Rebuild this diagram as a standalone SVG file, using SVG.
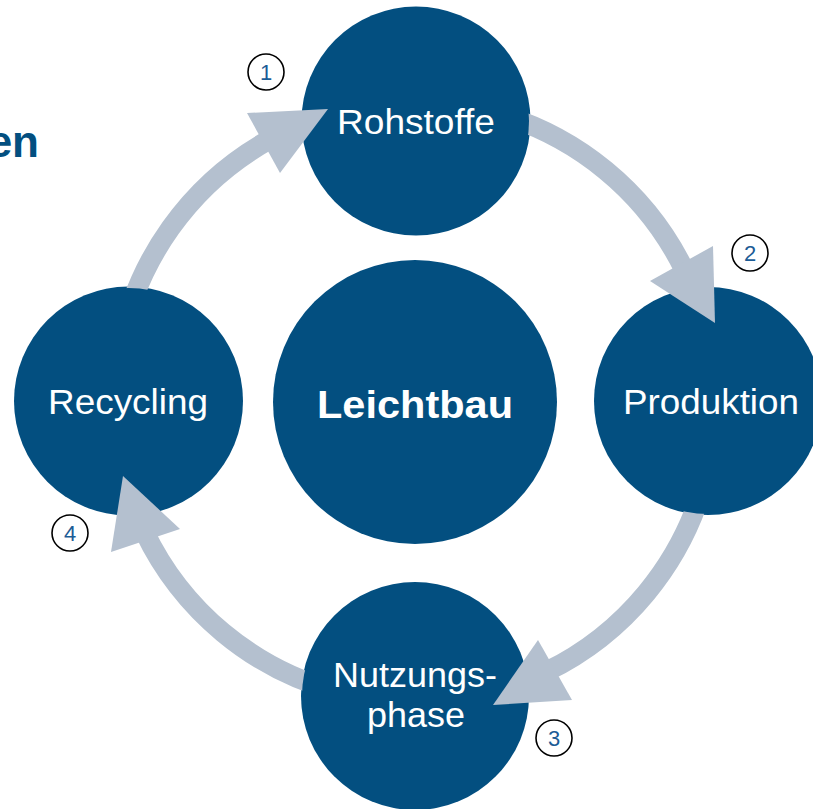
<svg xmlns="http://www.w3.org/2000/svg" width="813" height="809" viewBox="0 0 813 809">
<style>
.node{fill:#034f80}
.lbl{font-family:"Liberation Sans",Arial,sans-serif;font-size:35px;fill:#ffffff;text-anchor:middle}
.bold{font-weight:bold;font-size:38px}
.arc{fill:none;stroke:#b4c0cf;stroke-width:20}
.head{fill:#b4c0cf}
.num circle{fill:none;stroke:#000000;stroke-width:1.6}
.num text{font-family:"Liberation Sans",Arial,sans-serif;font-size:22px;fill:#1c5c96;text-anchor:middle}
</style>
<defs>
<mask id="m" maskUnits="userSpaceOnUse" x="0" y="0" width="813" height="809">
<rect x="0" y="0" width="813" height="809" fill="#fff"/>
<circle cx="416" cy="121" r="113" fill="#000"/>
<circle cx="708" cy="401" r="113" fill="#000"/>
<circle cx="415" cy="696" r="113" fill="#000"/>
<circle cx="128.5" cy="401" r="113" fill="#000"/>
</mask>
</defs>
<rect width="813" height="809" fill="#ffffff"/>
<text x="39" y="157" style="font-family:'Liberation Sans',Arial,sans-serif;font-weight:bold;font-size:44px;fill:#034f80;text-anchor:end">en</text>
<g id="rohstoffe">
<circle class="node" cx="416" cy="121" r="114.5"/>
<text class="lbl" x="416" y="134" textLength="158" lengthAdjust="spacingAndGlyphs">Rohstoffe</text>
</g>
<g id="produktion">
<circle class="node" cx="708" cy="401" r="114"/>
<text class="lbl" x="711" y="414" textLength="176" lengthAdjust="spacingAndGlyphs">Produktion</text>
</g>
<g id="nutzungsphase">
<circle class="node" cx="415" cy="696" r="114"/>
<text class="lbl" x="415" y="687" textLength="164" lengthAdjust="spacingAndGlyphs">Nutzungs-</text>
<text class="lbl" x="416" y="727" textLength="98" lengthAdjust="spacingAndGlyphs">phase</text>
</g>
<g id="recycling">
<circle class="node" cx="128.5" cy="401" r="114.5"/>
<text class="lbl" x="128" y="414" textLength="160" lengthAdjust="spacingAndGlyphs">Recycling</text>
</g>
<g id="leichtbau">
<circle class="node" cx="415" cy="402" r="142"/>
<text class="lbl bold" x="415" y="418" textLength="196" lengthAdjust="spacingAndGlyphs">Leichtbau</text>
</g>
<g id="connectors">
<g mask="url(#m)">
<path class="arc" d="M119.5,349.9 A300,300 0 0 1 269.6,139.6"/>
<path class="arc" d="M492.6,112.2 A300,300 0 0 1 684.6,270.5"/>
<path class="arc" d="M704.8,479.6 A300,300 0 0 1 546.5,671.6"/>
<path class="arc" d="M337.4,691.8 A300,300 0 0 1 144.2,531.2"/>
</g>
<polygon class="head" points="328,109 247,113 280,173"/>
<polygon class="head" points="715,323 650,281 713,246"/>
<polygon class="head" points="493,705 538,640 572,700"/>
<polygon class="head" points="123,476 111,552 180,529"/>
</g>
<g id="labels">
<g class="num" id="n1"><circle cx="266" cy="72" r="18"/><text x="266" y="80">1</text></g>
<g class="num" id="n2"><circle cx="750" cy="253" r="18"/><text x="750" y="261">2</text></g>
<g class="num" id="n3"><circle cx="554" cy="738" r="18"/><text x="554" y="746">3</text></g>
<g class="num" id="n4"><circle cx="70" cy="533" r="18"/><text x="70" y="541">4</text></g>
</g>
</svg>
